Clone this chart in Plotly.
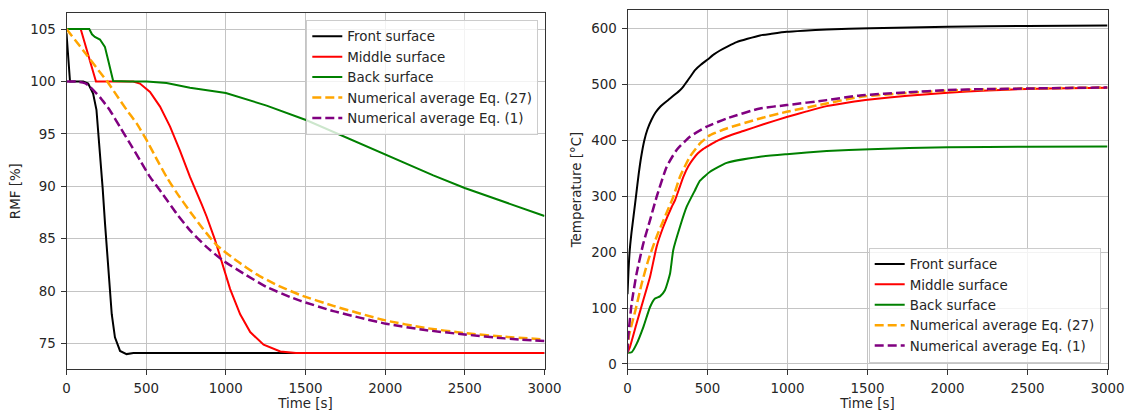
import plotly.graph_objects as go

# ---------------- Left panel: RMF [%] vs time ----------------
front_rmf_t = [0, 6, 14, 22, 60, 105, 136, 167, 188, 209, 227, 242, 263, 284, 304, 336, 377, 420, 600, 1000, 2000, 3000]
front_rmf = [104.6, 103.0, 101.3, 100.0, 100.0, 100.0, 99.8, 98.85, 97.3, 93.4, 89.8, 86.4, 81.7, 77.8, 75.6, 74.3, 74.0, 74.1, 74.1, 74.1, 74.1, 74.1]

middle_rmf_t = [0, 89, 185, 300, 419, 461, 524, 587, 650, 712, 775, 848, 880, 932, 974, 1027, 1090, 1153, 1237, 1342, 1440, 1600, 3000]
middle_rmf = [105, 105, 100, 100, 100, 99.8, 99.0, 97.6, 95.7, 93.4, 90.9, 88.3, 87.1, 84.9, 82.8, 80.2, 77.8, 76.1, 74.9, 74.25, 74.1, 74.1, 74.1]

back_rmf_t = [0, 143, 160, 178, 210, 241, 262, 279, 293, 400, 503, 628, 775, 1000, 1256, 1507, 1675, 2005, 2302, 2499, 2721, 3000]
back_rmf = [105, 105, 104.5, 104.25, 104.0, 103.3, 102.0, 100.8, 100.05, 100, 100, 99.85, 99.4, 98.9, 97.7, 96.3, 95.2, 93.0, 91.05, 89.84, 88.66, 87.17]

eq27_rmf_t = [0, 105, 209, 256, 314, 377, 440, 503, 566, 628, 691, 775, 859, 942, 1068, 1194, 1319, 1465, 1675, 2005, 2250, 2499, 2750, 3000]
eq27_rmf = [105, 102.96, 100.9, 100.0, 98.7, 97.3, 96.0, 94.4, 92.6, 90.9, 89.4, 87.6, 85.9, 84.4, 82.9, 81.6, 80.6, 79.65, 78.6, 77.2, 76.5, 76.0, 75.65, 75.4]

eq1_rmf_t = [0, 60, 115, 147, 209, 272, 335, 398, 461, 524, 597, 691, 775, 880, 984, 1110, 1256, 1403, 1465, 1675, 2005, 2250, 2499, 2750, 3000]
eq1_rmf = [100, 100, 99.85, 99.5, 98.5, 97.26, 95.67, 94.1, 92.5, 90.9, 89.4, 87.4, 85.8, 84.2, 82.9, 81.7, 80.4, 79.45, 79.1, 78.1, 76.9, 76.3, 75.87, 75.5, 75.24]

# ---------------- Right panel: Temperature [°C] vs time ----------------
front_temp_t = [0, 6, 13, 25, 38, 53, 70, 85, 105, 125, 150, 175, 203, 235, 266, 300, 328, 350, 370, 395, 422, 460, 501, 540, 578, 630, 682, 750, 828, 900, 995, 1100, 1245, 1516, 2001, 2499, 3000]
front_temp = [125, 165, 200, 235, 265, 300, 340, 370, 400, 420, 437, 450, 460, 468, 475, 483, 490, 497, 505, 515, 526, 536, 545, 554, 561, 569, 576, 582, 588, 591, 594.5, 596.5, 598.7, 601, 603.6, 605, 605.8]

middle_temp_t = [0, 16, 57, 99, 141, 182, 224, 276, 297, 328, 349, 380, 411, 440, 474, 516, 557, 640, 724, 850, 995, 1120, 1245, 1380, 1516, 1750, 2001, 2250, 2499, 2750, 3000]
middle_temp = [20, 31, 72.8, 114.5, 156, 209.8, 245.6, 281, 293, 318, 335, 354, 367, 377, 385, 392, 399, 409, 417, 429, 442, 452, 461.5, 468, 473.4, 480, 485.4, 489.5, 492.3, 493.5, 494.3]

back_temp_t = [0, 26, 57, 99, 141, 172, 203, 234, 266, 286, 328, 370, 422, 453, 516, 620, 828, 995, 1245, 1516, 2001, 2499, 3000]
back_temp = [20, 21, 36, 66, 102, 117, 121, 132, 162, 204, 245.6, 281.5, 311, 328, 344, 360, 371, 375.5, 381, 384.5, 388, 388.6, 389.2]

eq27_temp_t = [0, 8, 50, 89, 130, 182, 234, 286, 328, 390, 453, 516, 620, 828, 995, 1245, 1453, 1750, 2001, 2250, 2499, 2750, 3000]
eq27_temp = [20, 48.9, 96.5, 144, 186, 227.8, 263.5, 299, 335, 371, 394.6, 409.5, 421.5, 439.4, 451.3, 466.2, 478, 485, 489, 491.5, 493, 494, 494.9]

eq1_temp_t = [0, 5, 26, 57, 99, 141, 182, 245, 307, 390, 495, 620, 828, 995, 1245, 1453, 1750, 2001, 2250, 2499, 2750, 3000]
eq1_temp = [20, 50, 108.5, 162, 215.8, 257.6, 299, 353, 383, 406.7, 424.6, 439.4, 457.3, 463.3, 472.2, 480.6, 486, 490.2, 492, 493, 494, 494.9]

series_names = ["Front surface", "Middle surface", "Back surface",
                "Numerical average Eq. (27)", "Numerical average Eq. (1)"]
series_colors = ["#000000", "#ff0000", "#008000", "#ffa500", "#800080"]
series_dash = ["solid", "solid", "solid", "9px,4px", "9px,4px"]
series_width = [2, 2, 2, 2.5, 2.5]
left_shapes = ["linear", "linear", "linear", "spline", "spline"]
right_shapes = ["spline", "spline", "spline", "spline", "spline"]

x_ticks = [0, 500, 1000, 1500, 2000, 2500, 3000]
rmf_ticks = [75, 80, 85, 90, 95, 100, 105]
temp_ticks = [0, 100, 200, 300, 400, 500, 600]

left_sets = [(front_rmf_t, front_rmf), (middle_rmf_t, middle_rmf), (back_rmf_t, back_rmf),
             (eq27_rmf_t, eq27_rmf), (eq1_rmf_t, eq1_rmf)]
right_sets = [(front_temp_t, front_temp), (middle_temp_t, middle_temp), (back_temp_t, back_temp),
              (eq27_temp_t, eq27_temp), (eq1_temp_t, eq1_temp)]

FONT = "DejaVu Sans"
FS = 13.4
TXT = "#262626"

fig = go.Figure()
for i, (tx, vy) in enumerate(left_sets):
    fig.add_trace(go.Scatter(x=tx, y=vy, mode="lines", name=series_names[i],
                             line=dict(color=series_colors[i], width=series_width[i], dash=series_dash[i],
                                       shape=left_shapes[i], smoothing=0.5),
                             xaxis="x", yaxis="y", legend="legend"))
for i, (tx, vy) in enumerate(right_sets):
    fig.add_trace(go.Scatter(x=tx, y=vy, mode="lines", name=series_names[i],
                             line=dict(color=series_colors[i], width=series_width[i], dash=series_dash[i],
                                       shape=right_shapes[i], smoothing=0.5),
                             xaxis="x2", yaxis="y2", legend="legend2"))

W, H = 1129, 414

def axis_common():
    return dict(showline=True, linecolor="#333333", linewidth=1, mirror=True,
                showgrid=True, gridcolor="#c4c4c4", gridwidth=1, zeroline=False,
                ticks="outside", ticklen=5, tickwidth=1, tickcolor="#333333",
                ticklabelstandoff=2, automargin=False,
                tickfont=dict(family=FONT, size=FS, color=TXT))

xa = axis_common()
xa.update(domain=[66.5 / W, 544.5 / W], range=[0, 3000], tickvals=x_ticks, anchor="y",
          title=dict(text="Time [s]", font=dict(family=FONT, size=FS, color=TXT), standoff=2))
ya = axis_common()
ya.update(domain=[(H - 369) / H, (H - 13.3) / H], range=[72.58, 106.5], tickvals=rmf_ticks, anchor="x",
          title=dict(text="RMF [%]", font=dict(family=FONT, size=FS, color=TXT), standoff=6))
xa2 = axis_common()
xa2.update(domain=[627.5 / W, 1107.5 / W], range=[0, 3000], tickvals=x_ticks, anchor="y2",
           title=dict(text="Time [s]", font=dict(family=FONT, size=FS, color=TXT), standoff=2))
ya2 = axis_common()
ya2.update(domain=[(H - 369) / H, (H - 10) / H], range=[-9, 633.5], tickvals=temp_ticks, anchor="x2",
           title=dict(text="Temperature [°C]", font=dict(family=FONT, size=FS, color=TXT), standoff=6))

legend_common = dict(font=dict(family=FONT, size=FS, color=TXT), bgcolor="rgba(255,255,255,0.8)",
                     bordercolor="#cccccc", borderwidth=1, itemwidth=30, tracegroupgap=0)

fig.update_layout(
    width=W, height=H,
    margin=dict(l=0, r=0, t=0, b=0),
    paper_bgcolor="white", plot_bgcolor="white",
    font=dict(family=FONT, size=FS, color=TXT),
    xaxis=xa, yaxis=ya, xaxis2=xa2, yaxis2=ya2,
    legend=dict(x=538.3 / W, xanchor="right", y=(H - 20) / H, yanchor="top", **legend_common),
    legend2=dict(x=1100.7 / W, xanchor="right", y=(H - 362.7) / H, yanchor="bottom", **legend_common),
    showlegend=True,
)

fig.write_html("out.html", config={"displayModeBar": False},
               post_script="document.body.style.margin='0';document.body.style.overflow='hidden';")
